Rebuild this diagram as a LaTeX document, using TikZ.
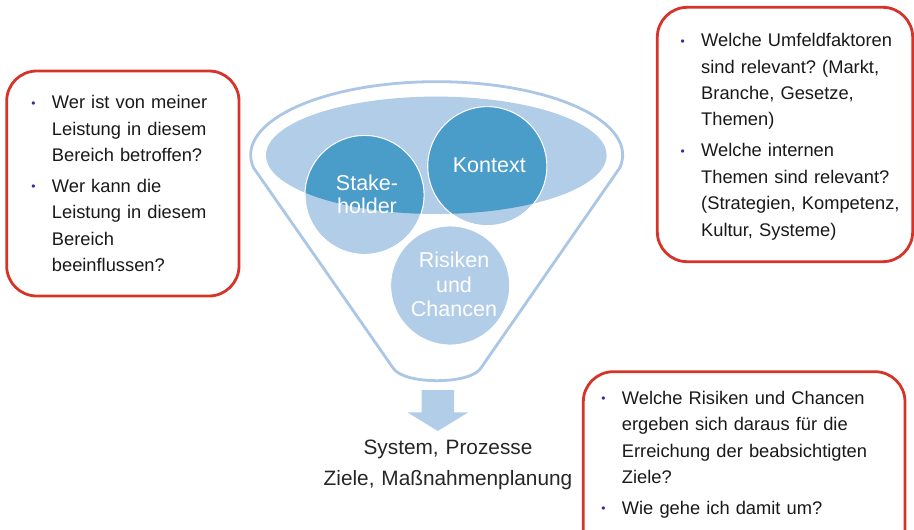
\documentclass[tikz,border=0pt]{standalone}
\usepackage{fontspec}
\setmainfont{Liberation Sans}
\frenchspacing
\definecolor{rahmenrot}{RGB}{214,52,40}
\definecolor{hellblau}{RGB}{178,205,231}
\definecolor{trichterblau}{RGB}{172,198,229}
\definecolor{dunkelblau}{RGB}{74,156,201}
\definecolor{punktblau}{RGB}{45,50,150}
\definecolor{schrift}{RGB}{25,25,25}
\definecolor{ergebnisgrau}{RGB}{38,38,38}
\newcommand\punkt{\leavevmode\llap{\raisebox{1.6pt}{\textcolor{punktblau}{\fontsize{12}{12}\selectfont\textbullet}}\hspace{16.3pt}}}

\begin{document}
\begin{tikzpicture}[x=1pt,y=-1pt,
    kasten/.style={draw=rahmenrot, line width=2.8pt, rounded corners=30pt},
    fragen/.style={anchor=base west, inner sep=0pt, text width=320pt, align=left, text=schrift, font=\fontsize{18.3}{26.4}\selectfont},
    kreis/.style={circle, fill=hellblau, draw=white, line width=0.9pt, minimum size=119pt, inner sep=0pt},
    kreistext/.style={anchor=base, inner sep=0pt, text width=110pt, align=center, text=white, font=\fontsize{21.5}{23.3}\selectfont}]
    \clip (0,0) rectangle (914,530);
    \fill[white] (0,0) rectangle (914,530);
    \draw[trichterblau, line width=2.8pt, line join=round](253.5,167.7) arc[start angle=170, end angle=370, x radius=186, y radius=73.3]--(480.7,368.3) .. controls (470,384.8) and (404,384.8) .. (393.3,368.3)--cycle;
    \fill[hellblau](436.3,155.3) ellipse[x radius=170.3, y radius=58.7];
    \node[kreis] (stake) at (364.5,195) {};
    \node[kreis] (kontext) at (487.3,166.2) {};
    \node[kreis] (risiken) at (450.2,285.5) {};
    \begin{scope}
        \clip (436.3,155.3) ellipse[x radius=170.3, y radius=58.7];
        \fill[dunkelblau](stake.center) circle[radius=59.5];
        \fill[dunkelblau](kontext.center) circle[radius=59.5];
    \end{scope}
    \foreach \n in {stake,kontext} \draw[white, line width=0.9pt](\n.center) circle[radius=59.5];
    \node[kreistext] (stxt) at (367,190) {Stake-\\holder};
    \node[kreistext] (ktxt) at (489.3,172.7) {Kontext};
    \node[kreistext, font=\fontsize{21.5}{24.7}\selectfont] (rtxt) at (454,267.3) {Risiken\\und\\Chancen};
    \fill[hellblau](421.7,390)--(454,390)--(454,412.3)--(468.3,412.3)--(437.8,431)--(407.3,412.3)--(421.7,412.3)--cycle;
    \node[anchor=base, inner sep=0pt, text width=300pt, align=center, text=ergebnisgrau, font=\fontsize{20.8}{31}\selectfont] (ergebnis) at (448,454) {System, Prozesse\\Ziele, Maßnahmenplanung};

    \draw[kasten](6.7,71) rectangle (239,296);
    \draw[kasten](657.3,7.3) rectangle (912.7,261.7);
    \draw[kasten](583.3,371.7) rectangle (905,570);
    \node[fragen] (links) at (51.7,108.7) {\punkt Wer ist von meiner\\Leistung in diesem\\Bereich betroffen?\\[4.6pt]\punkt Wer kann die\\Leistung in diesem\\Bereich\\beeinflussen?};
    \node[fragen] (rechts) at (701,46.7) {\punkt Welche Umfeldfaktoren\\sind relevant? (Markt,\\Branche, Gesetze,\\Themen)\\[4.6pt]\punkt Welche internen\\Themen sind relevant?\\(Strategien, Kompetenz,\\Kultur, Systeme)};
    \node[fragen] (unten) at (621.7,404.3) {\punkt Welche Risiken und Chancen\\ergeben sich daraus für die\\Erreichung der beabsichtigten\\Ziele?\\[4.6pt]\punkt Wie gehe ich damit um?};
\end{tikzpicture}
\end{document}
